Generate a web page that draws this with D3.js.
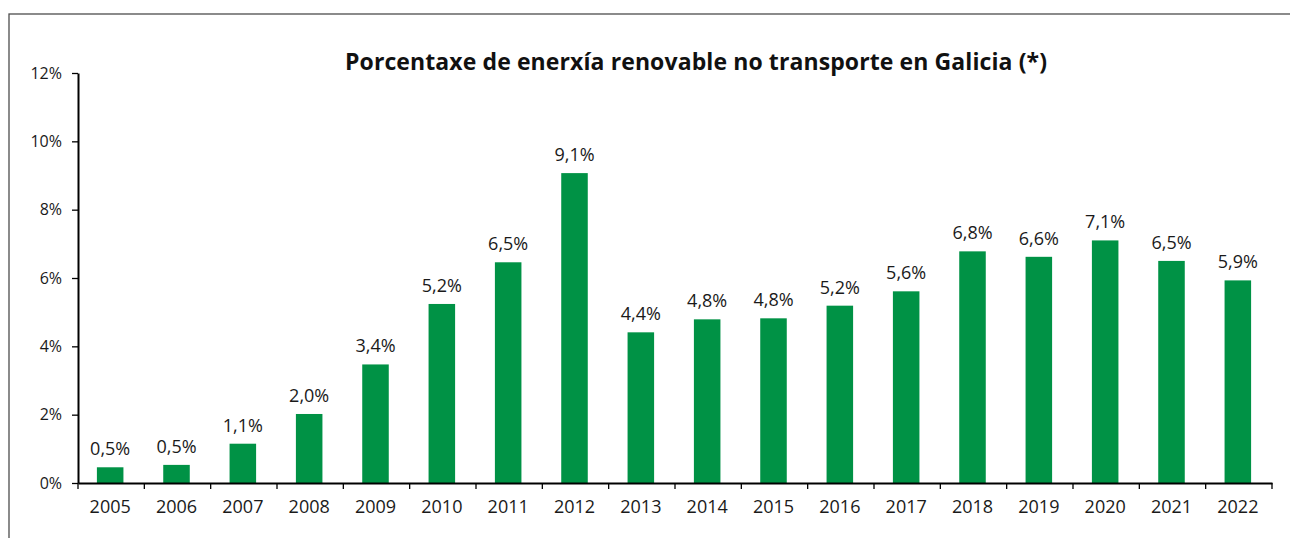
<!DOCTYPE html>
<html>
<head>
<meta charset="utf-8">
<script src="https://cdn.jsdelivr.net/npm/d3@7"></script>
<style>
  html, body { margin: 0; padding: 0; background: #fff; }
  svg { display: block; }
</style>
</head>
<body>
<script>
const title = "Porcentaxe de enerxía renovable no transporte en Galicia (*)";
const years = ["2005","2006","2007","2008","2009","2010","2011","2012","2013","2014","2015","2016","2017","2018","2019","2020","2021","2022"];
const values = [0.46, 0.53, 1.15, 2.02, 3.47, 5.24, 6.46, 9.07, 4.41, 4.79, 4.82, 5.19, 5.61, 6.78, 6.62, 7.10, 6.50, 5.93];
const labels = ["0,5%","0,5%","1,1%","2,0%","3,4%","5,2%","6,5%","9,1%","4,4%","4,8%","4,8%","5,2%","5,6%","6,8%","6,6%","7,1%","6,5%","5,9%"];
const yTicks = [0, 2, 4, 6, 8, 10, 12];

const W = 1290, H = 538;
const margin = {left: 78, right: 18, top: 73, bottom: 55};
const font = "'Open Sans', sans-serif";

const svg = d3.select("body").append("svg").attr("width", W).attr("height", H);

// outer frame (right/bottom outside the view)
svg.append("rect")
  .attr("x", 9).attr("y", 14).attr("width", 1400).attr("height", 700)
  .attr("fill", "none").attr("stroke", "#4d4d4d").attr("stroke-width", 1.3);

const x = d3.scaleBand().domain(years)
  .range([margin.left, W - margin.right])
  .paddingInner(0.6).paddingOuter(0.3);
const y = d3.scaleLinear().domain([0, 12]).range([H - margin.bottom, margin.top]);

// bars
svg.append("g").selectAll("rect").data(years).join("rect")
  .attr("x", d => x(d) - 1)
  .attr("width", x.bandwidth())
  .attr("y", (d, i) => y(values[i]))
  .attr("height", (d, i) => y(0) - y(values[i]))
  .attr("fill", "#009245");

// value labels
svg.append("g").selectAll("text").data(years).join("text")
  .attr("x", d => x(d) - 1 + x.bandwidth() / 2)
  .attr("y", (d, i) => y(values[i]) - 12)
  .attr("text-anchor", "middle")
  .attr("font-family", font).attr("font-size", 18).attr("fill", "#1a1a1a")
  .text((d, i) => labels[i]);

// y axis
const yAxis = svg.append("g").attr("transform", `translate(${margin.left},0)`)
  .call(d3.axisLeft(y).tickValues(yTicks).tickFormat(d => d + "%").tickSize(6).tickPadding(10).tickSizeOuter(0));
yAxis.select(".domain").attr("stroke", "#000").attr("stroke-width", 2);
yAxis.selectAll(".tick line").attr("stroke", "#000").attr("stroke-width", 1.3);
yAxis.selectAll("text").attr("font-family", font).attr("font-size", 16).attr("fill", "#1a1a1a");

// x axis (labels)
const xAxis = svg.append("g").attr("transform", `translate(0,${y(0)})`)
  .call(d3.axisBottom(x).tickSize(0).tickPadding(17).tickSizeOuter(0));
xAxis.select(".domain").attr("stroke", "#000").attr("stroke-width", 2);
xAxis.selectAll("text").attr("font-family", font).attr("font-size", 18).attr("fill", "#1a1a1a")
  .attr("dx", -1);

// x boundary ticks
const step = x.step();
const r0 = x.range()[0];
const bounds = d3.range(years.length + 1).map(i => r0 + i * step);
svg.append("g").selectAll("line").data(bounds).join("line")
  .attr("x1", d => d).attr("x2", d => d)
  .attr("y1", y(0)).attr("y2", y(0) + 6)
  .attr("stroke", "#000").attr("stroke-width", 1.3);

// title
svg.append("text")
  .attr("x", 696).attr("y", 70)
  .attr("text-anchor", "middle")
  .attr("font-family", font).attr("font-weight", "bold").attr("font-size", 23)
  .attr("textLength", 702).attr("lengthAdjust", "spacing")
  .attr("fill", "#111")
  .text(title);
</script>
</body>
</html>
